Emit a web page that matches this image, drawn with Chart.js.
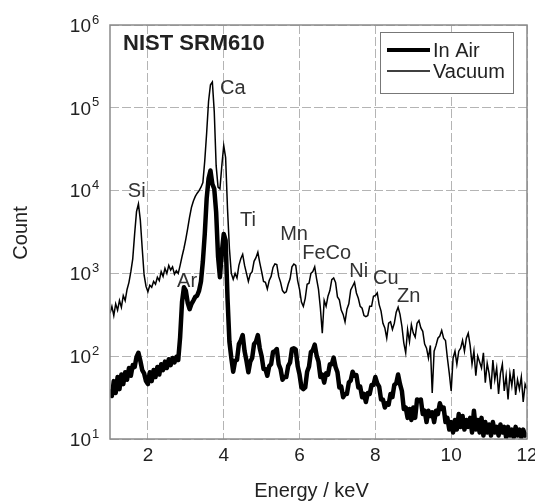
<!DOCTYPE html>
<html><head><meta charset="utf-8">
<script src="https://cdn.jsdelivr.net/npm/chart.js@4"></script>
<style>html,body{margin:0;padding:0;background:#fff;overflow:hidden}</style>
</head><body>
<canvas id="c" width="535" height="504"></canvas>
<script>
// ---- data ----
const energy = [
1.00,1.05,1.10,1.15,1.20,1.25,1.30,1.35,1.40,1.45,1.50,1.55,1.60,1.65,1.70,1.75,1.80,1.85,1.90,1.95,
2.00,2.05,2.10,2.15,2.20,2.25,2.30,2.35,2.40,2.45,2.50,2.55,2.60,2.65,2.70,2.75,2.80,2.85,2.90,2.95,
3.00,3.05,3.10,3.15,3.20,3.25,3.30,3.35,3.40,3.45,3.50,3.55,3.60,3.65,3.70,3.75,3.80,3.85,3.90,3.95,
4.00,4.05,4.10,4.15,4.20,4.25,4.30,4.35,4.40,4.45,4.50,4.55,4.60,4.65,4.70,4.75,4.80,4.85,4.90,4.95,
5.00,5.05,5.10,5.15,5.20,5.25,5.30,5.35,5.40,5.45,5.50,5.55,5.60,5.65,5.70,5.75,5.80,5.85,5.90,5.95,
6.00,6.05,6.10,6.15,6.20,6.25,6.30,6.35,6.40,6.45,6.50,6.55,6.60,6.65,6.70,6.75,6.80,6.85,6.90,6.95,
7.00,7.05,7.10,7.15,7.20,7.25,7.30,7.35,7.40,7.45,7.50,7.55,7.60,7.65,7.70,7.75,7.80,7.85,7.90,7.95,
8.00,8.05,8.10,8.15,8.20,8.25,8.30,8.35,8.40,8.45,8.50,8.55,8.60,8.65,8.70,8.75,8.80,8.85,8.90,8.95,
9.00,9.05,9.10,9.15,9.20,9.25,9.30,9.35,9.40,9.45,9.50,9.55,9.60,9.65,9.70,9.75,9.80,9.85,9.90,9.95,
10.00,10.05,10.10,10.15,10.20,10.25,10.30,10.35,10.40,10.45,10.50,10.55,10.60,10.65,10.70,10.75,10.80,10.85,10.90,10.95,
11.00,11.05,11.10,11.15,11.20,11.25,11.30,11.35,11.40,11.45,11.50,11.55,11.60,11.65,11.70,11.75,11.80,11.85,11.90,11.95,
12.00];

const inAir = [
40,33,50,36,56,40,60,46,64,52,72,58,78,74,98,110,88,68,62,50,
46,64,50,68,56,74,60,80,68,86,72,92,78,95,84,98,90,170,450,680,
620,440,370,430,470,520,540,620,800,1400,3000,8000,14000,17500,12000,10500,5500,1600,900,1800,
3000,2500,500,150,95,65,88,90,140,155,180,115,88,64,86,95,140,150,180,125,
100,70,70,58,76,80,112,115,122,80,70,52,56,56,76,84,122,125,120,76,
60,42,40,42,65,75,112,118,138,102,86,56,60,48,62,60,80,80,96,74,
64,42,43,32,35,35,48,51,65,58,59,42,43,32,35,28,36,35,45,45,
56,47,43,30,30,24,27,26,35,32,45,47,60,46,38,23,24,18,23,17,
24,18,30,29,30,20,22,16,22,19,21,16,22,20,27,23,24,16,18,13,
16,12,17,13,20,14,19,13,17,14,18,12,22,13,17,12,18,11,16,12,
15,11,16,12,14,11,15,12,14,10.5,14,11,13,10.5,14,11,13,10.5,13,11,
12];

const vacuum = [
330,400,310,430,360,470,390,540,470,640,780,1050,1500,3000,5600,6900,4400,2000,950,700,
600,720,680,800,740,900,820,1050,920,1150,1000,1250,1100,1200,980,1080,1000,1250,1600,2000,
2600,3500,4800,6300,7500,8500,9300,10000,11000,12500,23000,50000,120000,190000,205000,90000,20000,11000,10500,20000,
35000,25000,6000,2000,1000,850,1000,880,1250,1500,1700,1250,1000,800,980,1050,1400,1550,1800,1350,
1050,800,780,650,820,920,1180,1300,1280,920,780,620,580,600,740,860,1200,1300,1250,820,
640,450,400,500,740,760,1000,1050,1200,860,640,380,190,470,400,530,620,840,880,780,
520,480,360,320,260,370,430,630,700,780,580,500,400,380,310,300,310,400,400,530,
540,580,420,350,250,220,165,250,260,210,250,340,390,320,230,145,110,210,150,240,
190,170,250,270,220,200,140,125,95,135,36,115,135,165,175,205,165,155,95,62,
38,95,115,80,115,125,155,115,165,190,135,80,115,58,100,85,72,110,48,82,
62,40,90,52,72,35,62,80,38,58,30,62,44,70,34,52,40,56,28,46,
40];

const seriesLabels = ['In Air', 'Vacuum'];
const xTicks = [2, 4, 6, 8, 10, 12];
const yTickExponents = [1, 2, 3, 4, 5, 6];
const chartTitle = 'NIST SRM610';
const xTitle = 'Energy / keV';
const yTitle = 'Count';
const peakLabels = ['Si', 'Ar', 'Ca', 'Ti', 'Mn', 'FeCo', 'Ni', 'Cu', 'Zn'];
const peakLabelEnergy = [1.47, 2.77, 3.90, 4.43, 5.49, 6.07, 7.31, 7.94, 8.57];
const peakLabelCount = [9800, 800, 170000, 4400, 2950, 1740, 1050, 870, 520];

// ---- chart ----
const FONT = "'Liberation Sans', Arial, Helvetica, sans-serif";
const TXT = '#222';

const decor = {
  id: 'decor',
  afterDraw(chart) {
    const ctx = chart.ctx, a = chart.chartArea;
    const xs = chart.scales.x, ys = chart.scales.y;
    ctx.save();
    // frame
    ctx.strokeStyle = '#8a8a8a';
    ctx.lineWidth = 1.5;
    ctx.setLineDash([]);
    ctx.strokeRect(a.left, a.top, a.right - a.left, a.bottom - a.top);

    // y tick labels 10^n
    ctx.fillStyle = TXT;
    yTickExponents.forEach(e => {
      const y = ys.getPixelForValue(Math.pow(10, e));
      ctx.font = '19px ' + FONT;
      ctx.textAlign = 'right';
      ctx.textBaseline = 'middle';
      ctx.fillText('10', a.left - 19, y + 1.5);
      ctx.font = '13px ' + FONT;
      ctx.textAlign = 'left';
      ctx.fillText(String(e), a.left - 18, y - 5);
    });

    // title
    ctx.font = 'bold 22px ' + FONT;
    ctx.textAlign = 'left';
    ctx.textBaseline = 'middle';
    ctx.fillText(chartTitle, a.left + 13, a.top + 19);

    // peak labels
    ctx.font = '20px ' + FONT;
    ctx.fillStyle = '#333';
    peakLabels.forEach((t, i) => {
      ctx.fillText(t, xs.getPixelForValue(peakLabelEnergy[i]), ys.getPixelForValue(peakLabelCount[i]));
    });

    // legend
    const lx = 380, ly = 32, lw = 133, lh = 61;
    ctx.fillStyle = '#fff';
    ctx.fillRect(lx, ly, lw, lh);
    ctx.strokeStyle = '#777';
    ctx.lineWidth = 1;
    ctx.strokeRect(lx + 0.5, ly + 0.5, lw, lh);
    chart.data.datasets.forEach((ds, i) => {
      const yy = ly + 18 + i * 21;
      ctx.strokeStyle = ds.borderColor;
      ctx.lineWidth = i === 0 ? 4 : 1.3;
      ctx.beginPath();
      ctx.moveTo(lx + 7, yy);
      ctx.lineTo(lx + 50, yy);
      ctx.stroke();
      ctx.fillStyle = TXT;
      ctx.font = '20px ' + FONT;
      ctx.textAlign = 'left';
      ctx.textBaseline = 'middle';
      ctx.fillText(ds.label, lx + 53, yy + 1.5);
    });

    // axis titles
    ctx.fillStyle = TXT;
    ctx.font = '20px ' + FONT;
    ctx.textAlign = 'center';
    ctx.textBaseline = 'alphabetic';
    ctx.fillText(xTitle, (a.left + a.right) / 2 - 7, 497);
    ctx.save();
    ctx.translate(27, 233);
    ctx.rotate(-Math.PI / 2);
    ctx.fillText(yTitle, 0, 0);
    ctx.restore();
    ctx.restore();
  }
};

new Chart(document.getElementById('c'), {
  type: 'line',
  data: {
    datasets: [
      {
        label: seriesLabels[0],
        data: energy.map((e, i) => ({ x: e, y: inAir[i] })),
        borderColor: '#000',
        borderWidth: 4.5,
        pointRadius: 0,
        tension: 0,
        borderJoinStyle: 'round'
      },
      {
        label: seriesLabels[1],
        data: energy.map((e, i) => ({ x: e, y: vacuum[i] })),
        borderColor: '#000',
        borderWidth: 1.5,
        pointRadius: 0,
        tension: 0
      }
    ]
  },
  options: {
    responsive: false,
    animation: false,
    devicePixelRatio: 1,
    layout: { padding: { left: 0, top: 25, right: 8, bottom: 0 } },
    plugins: { legend: { display: false }, tooltip: { enabled: false }, title: { display: false } },
    scales: {
      x: {
        type: 'linear',
        min: 1, max: 12,
        afterBuildTicks: s => { s.ticks = xTicks.map(v => ({ value: v })); },
        afterFit: s => { s.height = 65; s.paddingLeft = 0; s.paddingRight = 0; },
        grid: { color: '#b4b4b4', lineWidth: 1, drawTicks: false },
        border: { display: false, dash: [9, 3] },
        ticks: { padding: 5, color: TXT, font: { family: FONT, size: 19 }, maxRotation: 0 }
      },
      y: {
        type: 'logarithmic',
        min: 10, max: 1000000,
        afterBuildTicks: s => { s.ticks = yTickExponents.map(e => ({ value: Math.pow(10, e) })); },
        afterFit: s => { s.width = 110; s.paddingTop = 0; s.paddingBottom = 0; },
        grid: { color: '#b4b4b4', lineWidth: 1, drawTicks: false },
        border: { display: false, dash: [9, 3] },
        ticks: { display: false }
      }
    }
  },
  plugins: [decor]
});
</script>
</body></html>
